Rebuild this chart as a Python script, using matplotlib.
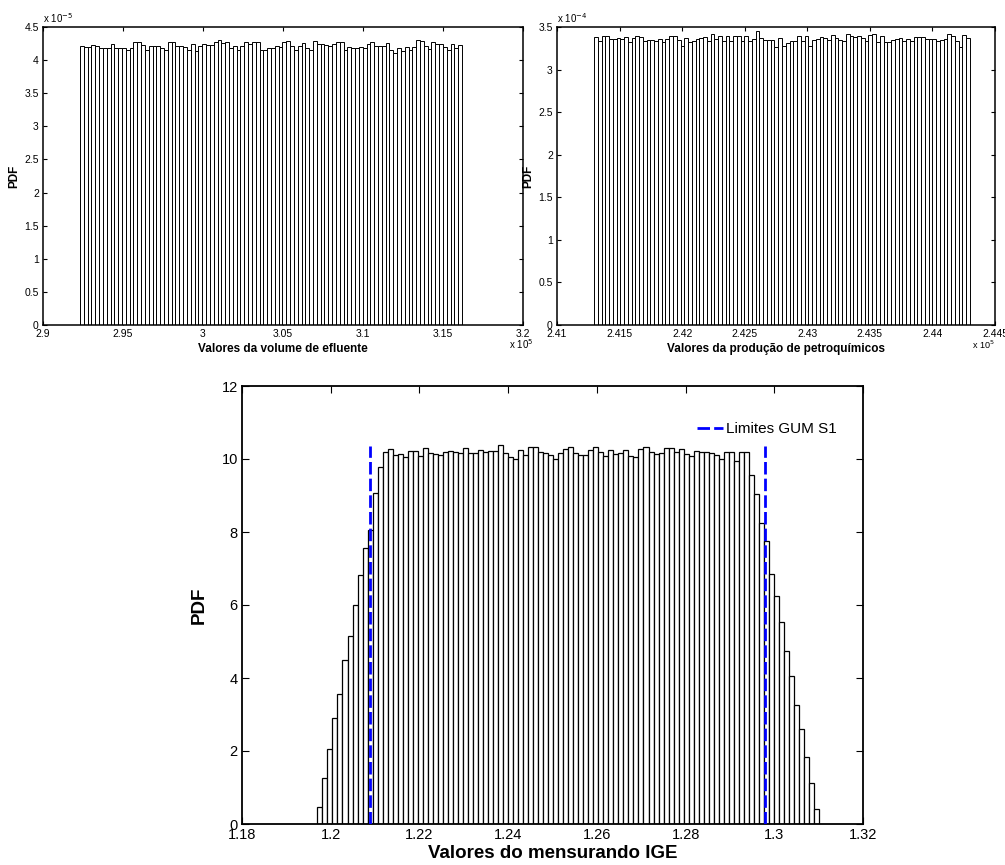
import numpy as np
import matplotlib
matplotlib.use("Agg")
import matplotlib.pyplot as plt
from matplotlib import font_manager


def has_font(name):
    try:
        font_manager.findfont(name, fallback_to_default=False)
        return True
    except Exception:
        return False


NARROW = "Liberation Sans Narrow" if has_font("Liberation Sans Narrow") else "Liberation Sans"
plt.rcParams["font.family"] = ["Liberation Sans", "DejaVu Sans"]

# ---------------- data ----------------
# Top-left: volume de efluente (x in 1e5, pdf in 1e-5)
vol_range = (2.9231, 3.1619)
vol_pdf = [4.22, 4.20, 4.20, 4.23, 4.21, 4.19, 4.18, 4.18, 4.25, 4.19,
           4.19, 4.19, 4.16, 4.18, 4.27, 4.28, 4.23, 4.16, 4.21, 4.21,
           4.21, 4.19, 4.15, 4.27, 4.28, 4.22, 4.22, 4.20, 4.16, 4.24,
           4.14, 4.22, 4.25, 4.23, 4.23, 4.27, 4.31, 4.26, 4.27, 4.19,
           4.22, 4.15, 4.22, 4.27, 4.25, 4.27, 4.27, 4.16, 4.15, 4.18,
           4.19, 4.22, 4.20, 4.27, 4.29, 4.21, 4.15, 4.21, 4.26, 4.18,
           4.16, 4.29, 4.25, 4.24, 4.23, 4.21, 4.25, 4.27, 4.28, 4.16,
           4.20, 4.19, 4.19, 4.20, 4.19, 4.24, 4.27, 4.22, 4.21, 4.22,
           4.26, 4.15, 4.11, 4.19, 4.14, 4.20, 4.16, 4.20, 4.30, 4.29,
           4.21, 4.17, 4.27, 4.25, 4.25, 4.20, 4.16, 4.25, 4.19, 4.23]
vol_xticks = [2.9, 2.95, 3.0, 3.05, 3.1, 3.15, 3.2]
vol_xticklabels = ["2.9", "2.95", "3", "3.05", "3.1", "3.15", "3.2"]
vol_yticks = [0, 0.5, 1, 1.5, 2, 2.5, 3, 3.5, 4, 4.5]
vol_yticklabels = ["0", "0.5", "1", "1.5", "2", "2.5", "3", "3.5", "4", "4.5"]

# Top-right: produção de petroquímicos (x in 1e5, pdf in 1e-4)
pet_range = (2.41296, 2.44300)
pet_pdf = [3.38, 3.34, 3.39, 3.39, 3.36, 3.36, 3.37, 3.36, 3.38, 3.32,
           3.37, 3.39, 3.38, 3.34, 3.35, 3.35, 3.34, 3.36, 3.32, 3.36,
           3.39, 3.40, 3.35, 3.28, 3.37, 3.32, 3.34, 3.36, 3.37, 3.38,
           3.33, 3.42, 3.36, 3.39, 3.34, 3.39, 3.34, 3.40, 3.39, 3.34,
           3.40, 3.33, 3.36, 3.45, 3.37, 3.35, 3.35, 3.35, 3.27, 3.37,
           3.28, 3.31, 3.34, 3.34, 3.39, 3.33, 3.40, 3.28, 3.35, 3.36,
           3.38, 3.37, 3.35, 3.41, 3.37, 3.35, 3.34, 3.42, 3.39, 3.38,
           3.39, 3.37, 3.33, 3.41, 3.42, 3.32, 3.40, 3.32, 3.32, 3.35,
           3.36, 3.37, 3.33, 3.36, 3.34, 3.38, 3.38, 3.38, 3.36, 3.36,
           3.36, 3.33, 3.35, 3.36, 3.42, 3.39, 3.33, 3.26, 3.41, 3.37]
pet_xticks = [2.41, 2.415, 2.42, 2.425, 2.43, 2.435, 2.44, 2.445]
pet_xticklabels = ["2.41", "2.415", "2.42", "2.425", "2.43", "2.435", "2.44", "2.445"]
pet_yticks = [0, 0.5, 1, 1.5, 2, 2.5, 3, 3.5]
pet_yticklabels = ["0", "0.5", "1", "1.5", "2", "2.5", "3", "3.5"]

# Bottom: mensurando IGE
ige_range = (1.1970, 1.3101)
ige_pdf = [0.46, 1.25, 2.05, 2.90, 3.55, 4.50, 5.16, 5.99, 6.81, 7.56,
           8.05, 9.06, 9.77, 10.19, 10.27, 10.11, 10.15, 10.05, 10.21, 10.21,
           10.07, 10.29, 10.16, 10.14, 10.10, 10.18, 10.23, 10.20, 10.16, 10.31,
           10.16, 10.16, 10.25, 10.18, 10.23, 10.23, 10.38, 10.16, 10.05, 10.00,
           10.24, 10.10, 10.33, 10.32, 10.20, 10.17, 10.11, 9.99, 10.17, 10.28,
           10.32, 10.16, 10.12, 10.11, 10.25, 10.33, 10.18, 10.07, 10.24, 10.13,
           10.16, 10.26, 10.07, 10.05, 10.27, 10.33, 10.19, 10.14, 10.17, 10.30,
           10.29, 10.18, 10.28, 10.15, 10.08, 10.22, 10.20, 10.20, 10.17, 10.11,
           9.99, 10.20, 10.20, 9.95, 10.19, 10.20, 9.57, 9.05, 8.26, 7.74,
           6.86, 6.26, 5.53, 4.73, 4.05, 3.27, 2.61, 1.83, 1.12, 0.40]
ige_xticks = [1.18, 1.2, 1.22, 1.24, 1.26, 1.28, 1.3, 1.32]
ige_xticklabels = ["1.18", "1.2", "1.22", "1.24", "1.26", "1.28", "1.3", "1.32"]
ige_yticks = [0, 2, 4, 6, 8, 10, 12]
ige_yticklabels = ["0", "2", "4", "6", "8", "10", "12"]
gum_limits = [1.2089, 1.2980]
gum_top = 10.36
gum_label = "Limites GUM S1"

# ---------------- figure ----------------
W, H = 1005, 865
fig = plt.figure(figsize=(W / 100, H / 100), dpi=100)


def px_axes(l, t, r, b):
    return fig.add_axes([l / W, 1 - b / H, (r - l) / W, (b - t) / H])


def px_text(x, y, s, **kw):
    fig.text(x / W, 1 - y / H, s, **kw)


def hist_bars(ax, rng, vals, lw):
    edges = np.linspace(rng[0], rng[1], len(vals) + 1)
    centers = (edges[:-1] + edges[1:]) / 2
    ax.bar(centers, vals, width=edges[1] - edges[0], color="white",
           edgecolor="black", linewidth=lw, align="center", zorder=2)


def style(ax, xt, xtl, yt, ytl, xlim, ylim, tsize, tlen, family, spw):
    ax.set_xlim(*xlim)
    ax.set_ylim(*ylim)
    ax.set_xticks(xt)
    ax.set_xticklabels(xtl, family=family)
    ax.set_yticks(yt)
    ax.set_yticklabels(ytl, family=family)
    ax.tick_params(direction="in", top=True, right=True, length=tlen,
                   width=0.8, labelsize=tsize, pad=3)
    for s in ax.spines.values():
        s.set_linewidth(spw)


# Top-left
ax1 = px_axes(43, 27, 523, 325)
hist_bars(ax1, vol_range, vol_pdf, 0.7)
style(ax1, vol_xticks, vol_xticklabels, vol_yticks, vol_yticklabels,
      (2.9, 3.2), (0, 4.5), 7.5, 3, "Liberation Sans", 1.1)
ax1.set_xlabel("Valores da volume de efluente", fontsize=8.5, fontweight="bold", labelpad=3)
ax1.set_ylabel("PDF", fontsize=8.5, fontweight="bold", labelpad=3)
px_text(43, 23, r"x 10$^{-5}$", fontsize=7, va="baseline", ha="left")
px_text(509, 349, r"x 10$^{5}$", fontsize=7, va="baseline", ha="left")

# Top-right
ax2 = px_axes(557, 27, 995, 325)
hist_bars(ax2, pet_range, pet_pdf, 0.7)
style(ax2, pet_xticks, pet_xticklabels, pet_yticks, pet_yticklabels,
      (2.41, 2.445), (0, 3.5), 7.5, 3, "Liberation Sans", 1.1)
ax2.set_xlabel("Valores da produção de petroquímicos", fontsize=8.5, fontweight="bold", labelpad=3)
ax2.set_ylabel("PDF", fontsize=8.5, fontweight="bold", labelpad=3)
px_text(557, 23, r"x 10$^{-4}$", fontsize=7, va="baseline", ha="left")
px_text(972, 349, r"x 10$^{5}$", fontsize=6.5, va="baseline", ha="left")

# Bottom
ax3 = px_axes(242, 386, 863, 824)
hist_bars(ax3, ige_range, ige_pdf, 0.9)
style(ax3, ige_xticks, ige_xticklabels, ige_yticks, ige_yticklabels,
      (1.18, 1.32), (0, 12), 10.5, 5, NARROW, 1.3)
for i, g in enumerate(gum_limits):
    ax3.plot([g, g], [0, gum_top], color="#0000ff", linewidth=2.0,
             dashes=(4.5, 1.5), label=gum_label if i == 0 else None, zorder=3)
ax3.set_xlabel("Valores do mensurando IGE", fontsize=13.5, fontweight="bold", labelpad=2)
ax3.set_ylabel("PDF", fontsize=13.5, fontweight="bold", labelpad=10)
leg = ax3.legend(loc="upper right", bbox_to_anchor=(0.962, 0.925), frameon=True,
                 fancybox=False, borderaxespad=0, borderpad=0.2, handlelength=1.7,
                 handletextpad=0.2, prop={"family": NARROW, "size": 11})
leg.get_frame().set_edgecolor("none")
leg.get_frame().set_facecolor("white")
leg.get_frame().set_alpha(1)

fig.savefig("out.png", dpi=100)
